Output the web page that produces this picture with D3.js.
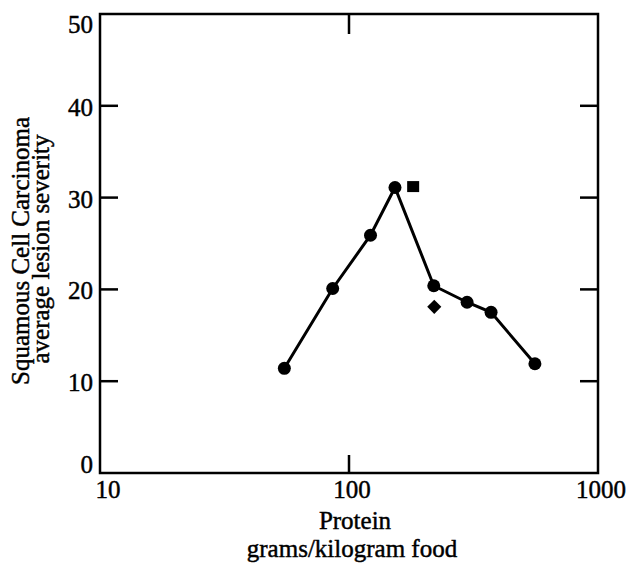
<!DOCTYPE html>
<html>
<head>
<meta charset="utf-8">
<script src="https://cdn.jsdelivr.net/npm/d3@7"></script>
<style>
  body { margin: 0; background: #fff; }
  text { font-family: "Liberation Serif", "DejaVu Serif", serif; fill: #000; stroke: #000; stroke-width: 0.45px; }
</style>
</head>
<body>
<div id="chart"></div>
<script>
// Protein vs lesion severity, log x axis

// Main series (circles joined by a line)
const protein = [55, 86, 122, 153, 219, 298, 372, 558];
const severity = [11.4, 20.1, 25.9, 31.1, 20.4, 18.6, 17.5, 11.9];

// Extra single points
const squarePoint = [181, 31.2];
const diamondPoint = [220, 18.1];

// Ticks
const xTicks = [10, 100, 1000];
const yTicks = [0, 10, 20, 30, 40, 50];

const width = 626, height = 570;
const margin = { top: 14, right: 28, bottom: 97, left: 100 };
const fs = "25px";

let svg = d3.select("#chart")
    .append("svg")
        .attr("width", width)
        .attr("height", height);

// Scales
let x = d3.scaleLog()
    .domain([10, 1000])
    .range([margin.left, width - margin.right]);
let y = d3.scaleLinear()
    .domain([0, 50])
    .range([height - margin.bottom, margin.top]);

let x0 = x.range()[0], x1 = x.range()[1],
    y0 = y.range()[0], y1 = y.range()[1];

// Frame
svg.append("rect")
    .attr("x", x0).attr("y", y1)
    .attr("width", x1 - x0).attr("height", y0 - y1)
    .attr("fill", "none")
    .attr("stroke", "#000")
    .attr("stroke-width", 2.5);

// Inner ticks, skipping the corners
const tickLen = 18;
yTicks.filter(d => d > 0 && d < 50).forEach(d => {
    svg.append("line")
        .attr("x1", x0).attr("x2", x0 + tickLen)
        .attr("y1", y(d)).attr("y2", y(d))
        .attr("stroke", "#000").attr("stroke-width", 2.5);
    svg.append("line")
        .attr("x1", x1 - tickLen).attr("x2", x1)
        .attr("y1", y(d)).attr("y2", y(d))
        .attr("stroke", "#000").attr("stroke-width", 2.5);
});
xTicks.filter(d => d > 10 && d < 1000).forEach(d => {
    svg.append("line")
        .attr("x1", x(d)).attr("x2", x(d))
        .attr("y1", y0).attr("y2", y0 - tickLen)
        .attr("stroke", "#000").attr("stroke-width", 2.5);
    svg.append("line")
        .attr("x1", x(d)).attr("x2", x(d))
        .attr("y1", y1).attr("y2", y1 + 20)
        .attr("stroke", "#000").attr("stroke-width", 2.5);
});

// Tick labels (end labels kept inside the frame height)
yTicks.forEach(d => {
    let by = Math.min(Math.max(y(d) + 10, y1 + 19), y0);
    svg.append("text").text(d)
        .attr("x", x0 - 7)
        .attr("y", by)
        .attr("text-anchor", "end")
        .style("font-size", fs);
});
xTicks.forEach(d => {
    svg.append("text").text(d)
        .attr("x", Math.max(x(d) + 3, x0 + 8))
        .attr("y", y0 + 25)
        .attr("text-anchor", "middle")
        .style("font-size", fs);
});

// Axis titles
svg.append("text").text("Protein")
    .attr("x", 355).attr("y", 529)
    .attr("text-anchor", "middle")
    .style("font-size", fs);
svg.append("text").text("grams/kilogram food")
    .attr("x", 352).attr("y", 557)
    .attr("text-anchor", "middle")
    .style("font-size", fs);

let yc = 251;
svg.append("text").text("Squamous Cell Carcinoma")
    .attr("transform", "translate(29," + yc + ") rotate(-90)")
    .attr("text-anchor", "middle")
    .style("font-size", fs);
svg.append("text").text("average lesion severity")
    .attr("transform", "translate(49," + (yc - 2) + ") rotate(-90)")
    .attr("text-anchor", "middle")
    .style("font-size", fs);

// Line
svg.append("path")
    .datum(severity)
    .attr("fill", "none")
    .attr("stroke", "#000")
    .attr("stroke-width", 3)
    .attr("d", d3.line()
        .x(function(d, i) { return x(protein[i]) })
        .y(function(d) { return y(d) })
    );

// Circles
svg.selectAll("circle.pt")
    .data(severity)
    .enter().append("circle")
        .attr("class", "pt")
        .attr("cx", (d, i) => x(protein[i]))
        .attr("cy", d => y(d))
        .attr("r", 6.5)
        .attr("fill", "#000");

// Square
svg.append("rect")
    .attr("x", x(squarePoint[0]) - 6)
    .attr("y", y(squarePoint[1]) - 5.5)
    .attr("width", 12).attr("height", 11)
    .attr("fill", "#000");

// Diamond
svg.append("path")
    .attr("transform", "translate(" + x(diamondPoint[0]) + "," + y(diamondPoint[1]) + ") rotate(45)")
    .attr("d", "M-5,-5H5V5H-5Z")
    .attr("fill", "#000");
</script>
</body>
</html>
